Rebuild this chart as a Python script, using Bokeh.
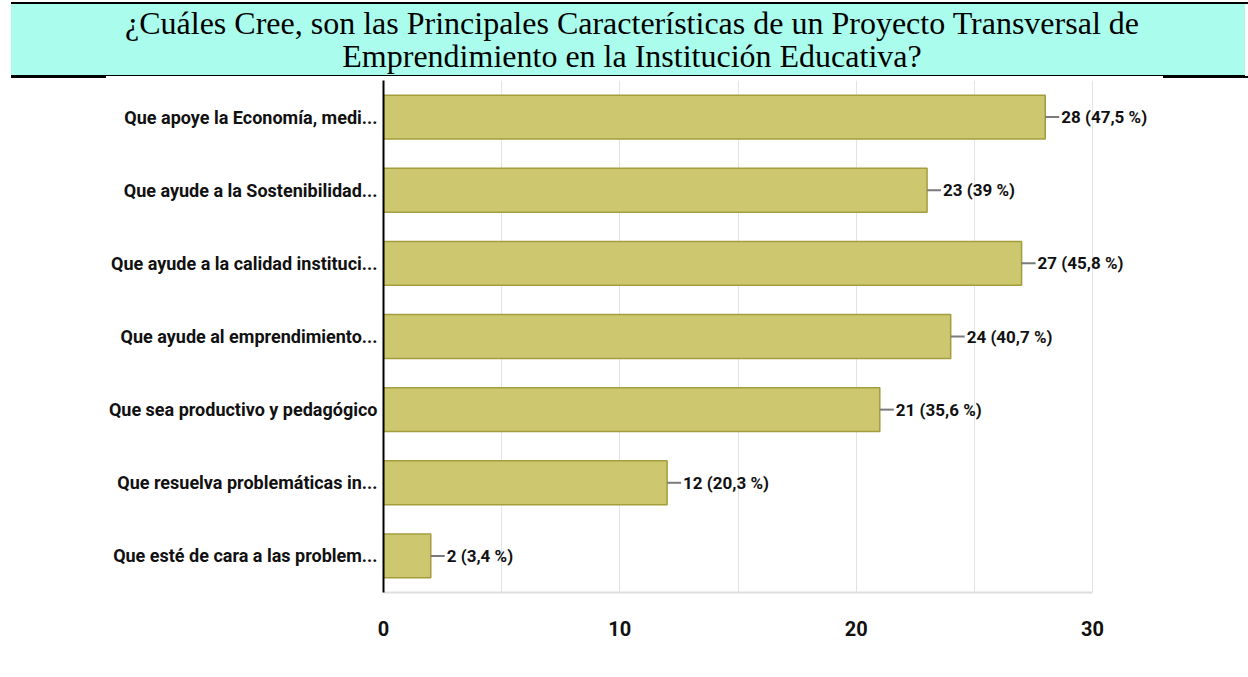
from bokeh.plotting import figure
from bokeh.models import Div, FixedTicker, ColumnDataSource, LabelSet
from bokeh.layouts import column
from bokeh.core.properties import value
from bokeh.embed import file_html
from bokeh.resources import INLINE

# ---- data ----
categories = [
    "Que apoye la Economía, medi...",
    "Que ayude a la Sostenibilidad...",
    "Que ayude a la calidad instituci...",
    "Que ayude al emprendimiento...",
    "Que sea productivo y pedagógico",
    "Que resuelva problemáticas in...",
    "Que esté de cara a las problem...",
]
counts = [28, 23, 27, 24, 21, 12, 2]
percents = ["47,5", "39", "45,8", "40,7", "35,6", "20,3", "3,4"]
x_ticks = [0, 10, 20, 30]
grid_ticks = [0, 5, 10, 15, 20, 25, 30]
axis_max = 30
title_lines = [
    "¿Cuáles Cree, son las Principales Características de un Proyecto Transversal de",
    "Emprendimiento en la Institución Educativa?",
]

labels = [f"{c} ({p} %)" for c, p in zip(counts, percents)]
src = ColumnDataSource(dict(cat=categories, n=counts, lab=labels))

FONT = "Roboto"

header_html = f"""
<div style="position:relative;width:1248px;height:78px;">
  <div style="position:absolute;left:11px;top:2px;width:1237px;height:2px;background:#000;"></div>
  <div style="position:absolute;left:11px;top:4px;width:1234px;height:72px;background:#aafdec;
              border-bottom:1px solid #000;font-family:'Liberation Serif','Times New Roman',serif;
              font-size:32px;line-height:33px;text-align:center;color:#000;
              padding-top:3px;padding-left:8px;box-sizing:border-box;white-space:nowrap;">
    {title_lines[0]}<br>{title_lines[1]}
  </div>
  <div style="position:absolute;left:11px;top:76px;width:95px;height:2px;background:#000;"></div>
  <div style="position:absolute;left:1163px;top:76px;width:85px;height:2px;background:#000;"></div>
</div>
"""
header = Div(text=header_html, width=1248, height=78, margin=(0, 0, 0, 0))

# frame geometry: 0 at x=383, 30 at x=1092, frame extends to 1240 so labels are not clipped
left_px, right_px, frame_end_px = 383, 1092, 1240
x_end = axis_max * (frame_end_px - left_px) / (right_px - left_px)

p = figure(
    y_range=list(reversed(categories)),
    x_range=(0, x_end),
    width=1248,
    height=598,
    output_backend="svg",
    toolbar_location=None,
    min_border_left=left_px,
    min_border_right=1248 - frame_end_px,
    min_border_top=2,
    min_border_bottom=84,
    outline_line_color=None,
)

p.hbar(y="cat", right="n", left=0, height=0.6, source=src,
       fill_color="#cdc86f", line_color="#a39d3e", line_width=1.5)

p.ray(x="n", y="cat", length=14, length_units="screen", angle=0,
      source=src, line_color="#7a7a7a", line_width=2)

p.add_layout(LabelSet(x="n", y="cat", text="lab", source=src, x_offset=16,
                      text_baseline="middle", text_align="left",
                      text_font=value(FONT), text_font_size=value("17px"),
                      text_font_style=value("bold"), text_color=value("#111111")))

# axes
p.xaxis.ticker = FixedTicker(ticks=x_ticks)
p.xaxis.bounds = (0, axis_max)
p.xaxis.axis_line_color = "#dddddd"
p.xaxis.axis_line_width = 2
p.xaxis.major_tick_line_color = None
p.xaxis.minor_tick_line_color = None
p.xaxis.major_label_standoff = 22
p.xaxis.major_label_text_font = FONT
p.xaxis.major_label_text_font_size = "20px"
p.xaxis.major_label_text_font_style = "bold"
p.xaxis.major_label_text_color = "#111111"

p.yaxis.axis_line_color = "#000000"
p.yaxis.axis_line_width = 2
p.yaxis.major_tick_line_color = None
p.yaxis.minor_tick_line_color = None
p.yaxis.major_label_standoff = 0
p.yaxis.major_label_text_font = FONT
p.yaxis.major_label_text_font_size = "18px"
p.yaxis.major_label_text_font_style = "bold"
p.yaxis.major_label_text_color = "#111111"

p.xgrid.ticker = FixedTicker(ticks=grid_ticks)
p.xgrid.grid_line_color = "#e3e3e3"
p.ygrid.grid_line_color = None

layout = column(header, p, spacing=0)
open("out.html", "w").write(file_html(layout, INLINE))
